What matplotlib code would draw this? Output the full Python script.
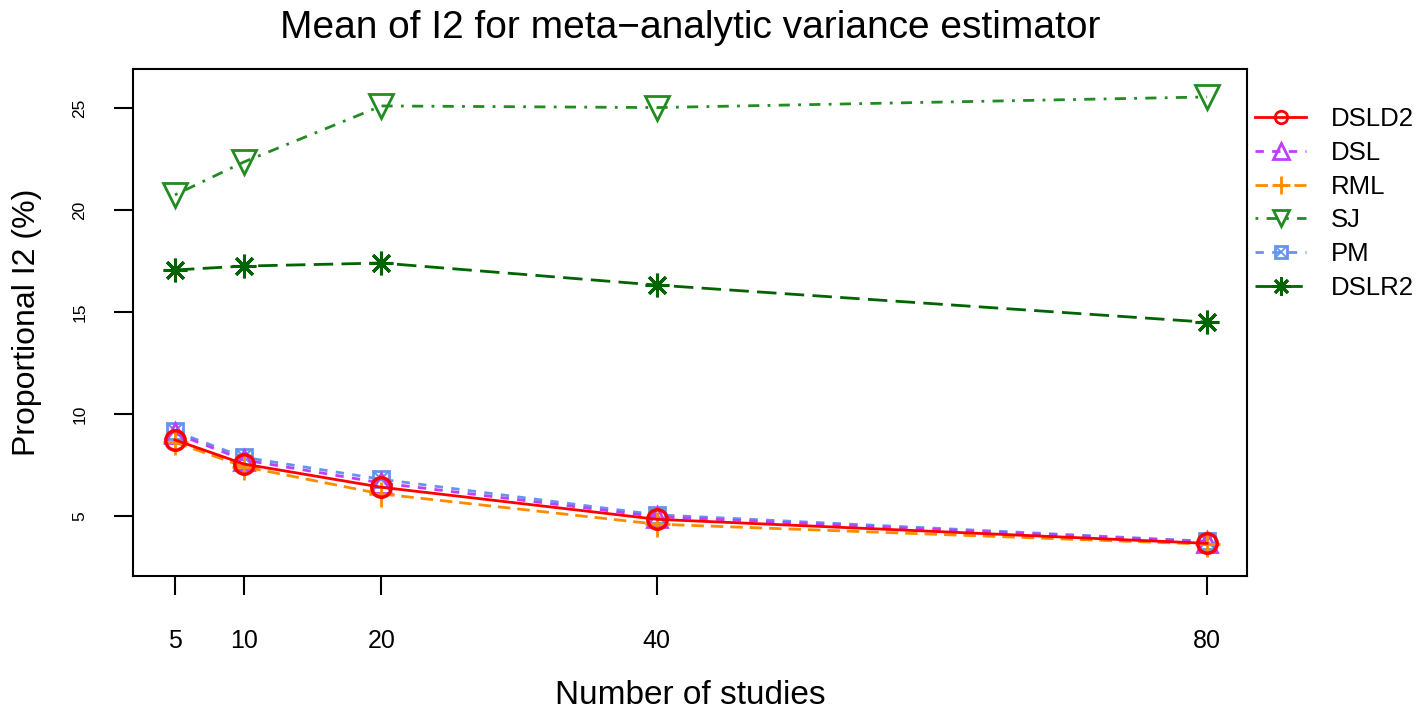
import numpy as np
import matplotlib
matplotlib.use("Agg")
import matplotlib.pyplot as plt
from matplotlib.lines import Line2D
from matplotlib.legend_handler import HandlerTuple

plt.rcParams['font.family'] = ['Liberation Sans', 'DejaVu Sans']

# number of studies
n_studies = [5, 10, 20, 40, 80]

# mean I2 (%) per estimator
dsld2 = [8.73, 7.55, 6.41, 4.84, 3.66]
dsl = [9.05, 7.75, 6.62, 4.97, 3.74]
rml = [8.62, 7.42, 6.08, 4.60, 3.62]
sj = [20.74, 22.35, 25.10, 25.02, 25.54]
pm = [9.15, 7.88, 6.80, 5.06, 3.76]
dslr2 = [17.06, 17.25, 17.40, 16.32, 14.50]

labels = ["DSLD2", "DSL", "RML", "SJ", "PM", "DSLR2"]

fig = plt.figure(figsize=(14.18, 7.09), dpi=100)
ax = fig.add_axes([133/1418, 1-576/709, 1114/1418, 507/709])

lw = 2
# draw order: green ones, then the low group, red last on top
ax.plot(n_studies, sj, color="#228B22", lw=lw, dashes=(1, 3, 4, 3),
        marker="v", ms=17, mfc="none", mew=2, zorder=3)
ax.plot(n_studies, dslr2, color="#006400", lw=lw, dashes=(7, 3),
        marker=(8, 2, 0), ms=17, mew=2.2, zorder=3)
ax.plot(n_studies, pm, color="#6495ED", lw=lw, dashes=(3, 3),
        marker="s", ms=12, mfc="none", mew=2, zorder=3)
ax.plot(n_studies, pm, color="#6495ED", ls="none",
        marker="x", ms=12, mew=1.5, zorder=3)
ax.plot(n_studies, dsl, color="#BF3EFF", lw=lw, dashes=(3, 3),
        marker="^", ms=15, mfc="none", mew=2, zorder=4)
ax.plot(n_studies, rml, color="#FF8C00", lw=lw, dashes=(4.5, 2.5),
        marker="+", ms=18, mew=2, zorder=4)
ax.plot(n_studies, dsld2, color="#FF0000", lw=lw,
        marker="o", ms=14, mfc="none", mew=2.5, zorder=5)

ax.set_xlim(1.95, 82.9)
ax.set_ylim(2.06, 26.91)
ax.set_xticks(n_studies)
ax.set_xticklabels([str(v) for v in n_studies])
ax.set_yticks([5, 10, 15, 20, 25])
ax.tick_params(axis="x", direction="out", length=14, width=1.5, pad=24, labelsize=18)
ax.tick_params(axis="y", direction="out", length=14, width=1.5, pad=19, labelsize=12.5)
for t in ax.get_yticklabels():
    t.set_rotation(90)
    t.set_va("center")
for s in ax.spines.values():
    s.set_linewidth(1.5)

ax.set_title("Mean of I2 for meta\u2212analytic variance estimator", fontsize=28, pad=22)
ax.set_xlabel("Number of studies", fontsize=24)
ax.xaxis.set_label_coords(0.5, -0.205)
ax.set_ylabel("Proportional I2 (%)", fontsize=23)
ax.yaxis.set_label_coords(-0.082, 0.5)

# legend handles (smaller markers than in the plot)
h_dsld2 = Line2D([], [], color="#FF0000", lw=2, marker="o", ms=9, mfc="none", mew=2)
h_dsl = Line2D([], [], color="#BF3EFF", lw=2, dashes=(3, 3), marker="^", ms=11, mfc="none", mew=2)
h_rml = Line2D([], [], color="#FF8C00", lw=2, dashes=(4.5, 2.5), marker="+", ms=13, mew=2)
h_sj = Line2D([], [], color="#228B22", lw=2, dashes=(1, 3, 4, 3), marker="v", ms=12, mfc="none", mew=2)
h_pm1 = Line2D([], [], color="#6495ED", lw=2, dashes=(3, 3), marker="s", ms=9, mfc="none", mew=2)
h_pm2 = Line2D([], [], color="#6495ED", ls="none", marker="x", ms=9, mew=1.3)
h_dslr2 = Line2D([], [], color="#006400", lw=2, dashes=(7, 3), marker=(8, 2, 0), ms=13, mew=2)

fig.legend([h_dsld2, h_dsl, h_rml, h_sj, (h_pm1, h_pm2), h_dslr2], labels,
           handler_map={tuple: HandlerTuple(ndivide=1)},
           loc="upper left", bbox_to_anchor=(1255/1418, 1-107/709),
           frameon=False, fontsize=18.5, handlelength=2.0, handletextpad=0.95,
           labelspacing=0.38, borderpad=0, borderaxespad=0)

fig.savefig("out.png", dpi=100)
